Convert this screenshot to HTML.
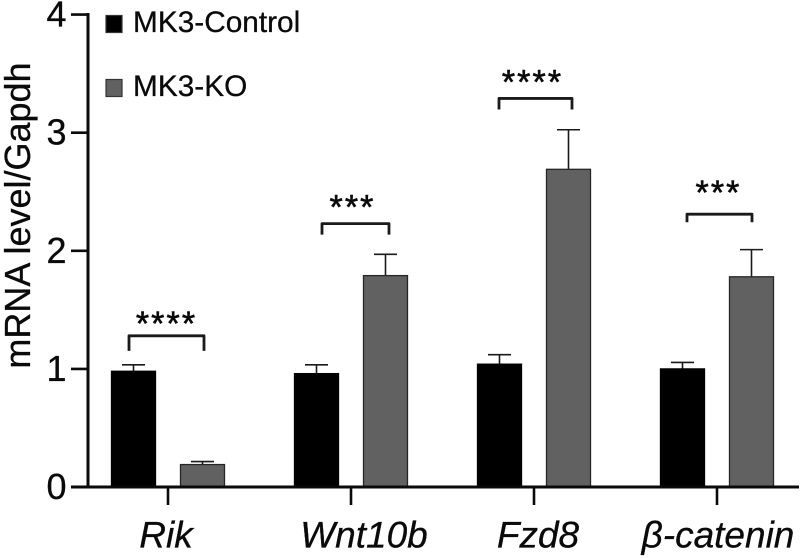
<!DOCTYPE html>
<html lang="en">
<head>
<meta charset="utf-8">
<title>mRNA level/Gapdh</title>
<style>
  html, body { margin: 0; padding: 0; background: #fff; }
  body { width: 802px; height: 558px; overflow: hidden; }
  svg { display: block; }
  text { font-family: "Liberation Sans", Arial, sans-serif; fill: #0a0a0a; stroke: #0a0a0a; stroke-width: 0.3px; }
</style>
</head>
<body>
<svg id="chart" xmlns="http://www.w3.org/2000/svg" width="802" height="558" viewBox="0 0 802 558"></svg>
<script>
const categories = ['Rik', 'Wnt10b', 'Fzd8', 'β-catenin'];
const seriesNames = ['MK3-Control', 'MK3-KO'];
const controlValues = [0.98, 0.96, 1.04, 1.00];
const controlErrors = [0.055, 0.075, 0.08, 0.055];
const koValues = [0.19, 1.79, 2.69, 1.78];
const koErrors = [0.025, 0.18, 0.335, 0.23];
const yTicks = [0, 1, 2, 3, 4];
const significance = ['****', '***', '****', '***'];
const bracketLevels = [1.28, 2.23, 3.29, 2.31];

const svg = document.getElementById('chart');
const NS = 'http://www.w3.org/2000/svg';
const Y0 = 487, UNIT = 118.1, FIRST_TICK = 168, GROUP_STEP = 183;
const yScale = v => Y0 - v * UNIT;
const xScale = i => FIRST_TICK + i * GROUP_STEP;

function make(tag, attrs, text) {
  const el = document.createElementNS(NS, tag);
  for (const k in attrs) el.setAttribute(k, attrs[k]);
  if (text !== undefined) el.textContent = text;
  svg.appendChild(el);
  return el;
}

function drawBar(i, value, err, offset, fill, stroke, key) {
  const cx = xScale(i) + offset;
  const top = yScale(value);
  const errTop = yScale(value + err);
  const stem = make('line', { x1: cx, x2: cx, y1: top, y2: errTop, stroke: '#1a1a1a', 'stroke-width': 1.6 });
  
  
  const cap = make('line', { x1: cx - 11.5, x2: cx + 11.5, y1: errTop, y2: errTop, stroke: '#1a1a1a', 'stroke-width': 1.6 });
  
  
  const bar = make('rect', { x: cx - 22, y: top, width: 44, height: Y0 - top, fill: fill, stroke: stroke, 'stroke-width': 1.3 });
  
  
}

categories.forEach((c, i) => {
  drawBar(i, controlValues[i], controlErrors[i], -34.5, '#000', '#000', 'control');
  drawBar(i, koValues[i], koErrors[i], 34.5, '#616161', '#262626', 'ko');
});

/* axes */
const yAxis = make('line', { x1: 88, x2: 88, y1: 13, y2: 488, stroke: '#0a0a0a', 'stroke-width': 3 });


const xAxis = make('line', { x1: 71, x2: 799, y1: Y0, y2: Y0, stroke: '#0a0a0a', 'stroke-width': 3 });



yTicks.forEach(t => {
  const y = yScale(t);
  const mark = make('line', { x1: 71, x2: 88, y1: y, y2: y, stroke: '#0a0a0a', 'stroke-width': 2.6 });
  
  
  const label = make('text', { x: 66.5, y: y + 12, 'text-anchor': 'end', 'font-size': 36 }, String(t));
  
  
});

categories.forEach((c, i) => {
  const mark = make('line', { x1: xScale(i), x2: xScale(i), y1: Y0, y2: 505, stroke: '#0a0a0a', 'stroke-width': 2.6 });
  
  
});

function drawCategoryLabel(i, shift) {
  const label = make('text', { x: xScale(i) + shift, y: 547.5, 'text-anchor': 'middle', 'font-size': 37, 'font-style': 'italic' }, categories[i]);
  
  
}
drawCategoryLabel(0, -2);
drawCategoryLabel(1, 13);
drawCategoryLabel(2, 4);
drawCategoryLabel(3, 1);

/* significance brackets */
function drawBracket(i, left, right, drop, starShift, starGap) {
  const y = yScale(bracketLevels[i]);
  const x1 = xScale(i) + left, x2 = xScale(i) + right;
  const path = make('path', { d: 'M' + x1 + ' ' + (y + drop) + 'V' + y + 'H' + x2 + 'V' + (y + drop), fill: 'none', stroke: '#1a1a1a', 'stroke-width': 2.8, 'stroke-linejoin': 'round' });
  
  
  const stars = make('text', { x: xScale(i) + starShift, y: y - starGap + 18, 'text-anchor': 'middle', 'font-size': 34, 'letter-spacing': 2.1, style: 'stroke-width:0.6px' }, significance[i]);
  
  
}
drawBracket(0, -39, 36, 15, -1.5, 19);
drawBracket(1, -29, 38, 11, 1.5, 23);
drawBracket(2, -35, 38, 11, -1.5, 23);
drawBracket(3, -30, 35, 8, 1.5, 28);

/* legend */
function drawLegend(i, boxY, fill, stroke, baseline, key) {
  const box = make('rect', { x: 106, y: boxY, width: 16, height: 17, fill: fill, stroke: stroke, 'stroke-width': 1.2 });
  
  
  const label = make('text', { x: 133, y: baseline, 'font-size': 29.8 }, seriesNames[i]);
  
  
}
drawLegend(0, 15.5, '#000', '#333', 32, 'control');
drawLegend(1, 79.5, '#616161', '#333', 96, 'ko');

/* y-axis title */
const title = make('text', { transform: 'translate(30 215.5) rotate(-90)', 'text-anchor': 'middle', 'font-size': 36 }, 'mRNA level/Gapdh');


</script>
</body>
</html>
